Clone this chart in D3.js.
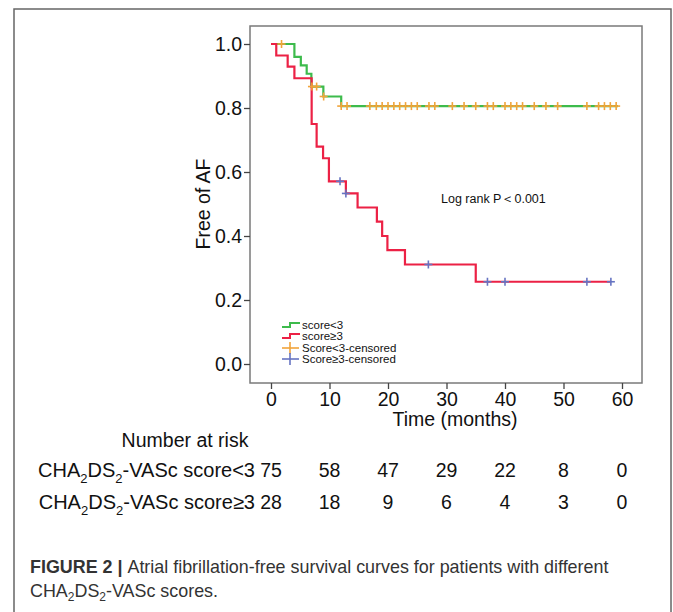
<!DOCTYPE html>
<meta charset="utf-8">
<style>
    body { margin: 0; background: #fff; }
    text { font-family: "Liberation Sans", Arial, sans-serif; fill: #111; }
    .caption text, text.caption { font-family: "Liberation Sans Narrow", "Liberation Sans", Arial, sans-serif; fill: #333; }
</style>
<svg id="f" width="673" height="612"></svg>
<script src="https://cdn.jsdelivr.net/npm/d3@7"></script>
<script>
    // step curves (time in months, survival)
    var lowTimes = [0, 4.0, 5.1, 6.1, 6.9, 8.95, 12.0];
    var lowSurv = [1, 0.96, 0.933, 0.907, 0.867, 0.836, 0.806];
    var lowEnd = 59.3;
    var highTimes = [0, 0.9, 2.85, 4.0, 6.95, 7.8, 8.9, 9.9, 12.8, 14.8, 18.1, 19.0, 19.9, 22.9, 35.0];
    var highSurv = [1, 0.964, 0.929, 0.893, 0.75, 0.679, 0.643, 0.571, 0.533, 0.489, 0.445, 0.4, 0.356, 0.311, 0.257];
    var highEnd = 58.1;

    // censored marks
    var lowCensored = [1.8, 7.0, 7.8, 9.0, 12.0, 13.0, 16.9, 18, 19, 20, 21, 22, 23, 24, 25, 27, 28, 31, 33, 35, 37, 38,
        40, 41, 42, 43, 45, 47, 49, 54, 56, 57, 58, 59];
    var highCensored = [11.8, 12.8, 26.9, 37.0, 40.0, 54.0, 58.1];

    var xTicks = [0, 10, 20, 30, 40, 50, 60];
    var yTicks = [0, 0.2, 0.4, 0.6, 0.8, 1.0];

    var riskLow = [75, 58, 47, 29, 22, 8, 0];
    var riskHigh = [28, 18, 9, 6, 4, 3, 0];

    var legendLabels = ["score<3", "score\u22653", "Score<3-censored", "Score\u22653-censored"];

    var green = "#3dbb4c", red = "#ec2145", orange = "#f2a43a", blue = "#6674c2";

    var svg = d3.select("#f");

    // outer figure box
    svg.append("rect")
        .attr("x", 14).attr("y", 9).attr("width", 657).attr("height", 620)
        .attr("fill", "none").attr("stroke", "#666").attr("stroke-width", 1.5);

    var x = d3.scaleLinear().domain([0, 60]).range([271, 622]),
        y = d3.scaleLinear().domain([0, 1]).range([364, 44]);

    // plot frame
    svg.append("rect")
        .attr("x", 250).attr("y", 26).attr("width", 392).attr("height", 357)
        .attr("fill", "none").attr("stroke", "#7a7a7a").attr("stroke-width", 1.5);

    // y axis
    var yAxis = svg.append("g").attr("transform", "translate(250,0)")
        .call(d3.axisLeft(y).tickValues(yTicks).tickFormat(d3.format(".1f")).tickSize(6).tickPadding(2));
    yAxis.select(".domain").remove();
    yAxis.selectAll("line").attr("stroke", "#444").attr("stroke-width", 1.3);
    yAxis.selectAll("text").attr("font-size", 19.5).attr("font-family", "Liberation Sans, Arial, sans-serif").attr("fill", "#111");

    // x axis
    var xAxis = svg.append("g").attr("transform", "translate(0,383)")
        .call(d3.axisBottom(x).tickValues(xTicks).tickSize(6).tickPadding(3));
    xAxis.select(".domain").remove();
    xAxis.selectAll("line").attr("stroke", "#444").attr("stroke-width", 1.3);
    xAxis.selectAll("text").attr("font-size", 19.5).attr("font-family", "Liberation Sans, Arial, sans-serif").attr("fill", "#111");

    svg.append("text").attr("x", 455).attr("y", 425.5).attr("text-anchor", "middle")
        .attr("font-size", 19.5).text("Time (months)");

    svg.append("text").attr("transform", "translate(210,204) rotate(-90)").attr("text-anchor", "middle")
        .attr("font-size", 19.5).text("Free of AF");

    svg.append("text").attr("x", 441).attr("y", 203).attr("font-size", 12.5).text("Log rank P\uFF1C0.001");

    // curves
    var line = d3.line().curve(d3.curveStepAfter)
        .x(function (d) { return x(d[0]); })
        .y(function (d) { return y(d[1]); });

    function pts(times, surv, end) {
        var p = times.map(function (t, i) { return [t, surv[i]]; });
        p.push([end, surv[surv.length - 1]]);
        return p;
    }
    function survAt(times, surv, t) {
        var i = d3.bisectRight(times, t) - 1;
        return surv[Math.max(0, i)];
    }

    svg.append("path").attr("d", line(pts(lowTimes, lowSurv, lowEnd)))
        .attr("fill", "none").attr("stroke", green).attr("stroke-width", 2.2);
    svg.append("path").attr("d", line(pts(highTimes, highSurv, highEnd)))
        .attr("fill", "none").attr("stroke", red).attr("stroke-width", 2.2);

    function crosses(times, tt, ss, color) {
        var g = svg.append("g").attr("stroke", color).attr("stroke-width", 1.6);
        times.forEach(function (t) {
            var cx = x(t), cy = y(survAt(tt, ss, t));
            g.append("line").attr("x1", cx - 4).attr("x2", cx + 4).attr("y1", cy).attr("y2", cy);
            g.append("line").attr("x1", cx).attr("x2", cx).attr("y1", cy - 4).attr("y2", cy + 4);
        });
    }
    crosses(lowCensored, lowTimes, lowSurv, orange);
    crosses(highCensored, highTimes, highSurv, blue);

    // legend
    var legendY = [325, 336, 348, 359];
    var legend = svg.append("g");
    [green, red].forEach(function (c, i) {
        var ly = legendY[i];
        legend.append("path")
            .attr("d", "M282," + (ly + 2) + "H290V" + (ly - 2) + "H300")
            .attr("fill", "none").attr("stroke", c).attr("stroke-width", 2);
    });
    [orange, blue].forEach(function (c, i) {
        var ly = legendY[i + 2];
        legend.append("line").attr("x1", 282).attr("x2", 299).attr("y1", ly).attr("y2", ly)
            .attr("stroke", c).attr("stroke-width", 1.6);
        legend.append("line").attr("x1", 290).attr("x2", 290).attr("y1", ly - 6).attr("y2", ly + 6)
            .attr("stroke", c).attr("stroke-width", 1.6);
    });
    legend.selectAll("text.lg").data(legendLabels).enter().append("text")
        .attr("class", "lg")
        .attr("x", 302).attr("y", function (d, i) { return legendY[i] + 4; })
        .attr("font-size", 11.5).text(function (d) { return d; });

    // number at risk table
    svg.append("text").attr("x", 185).attr("y", 447).attr("text-anchor", "middle")
        .attr("font-size", 19.5).text("Number at risk");

    function rowLabel(yy, suffix) {
        var t = svg.append("text").attr("x", 255).attr("y", yy).attr("text-anchor", "end").attr("font-size", 20);
        t.append("tspan").text("CHA");
        t.append("tspan").attr("font-size", 13).attr("dy", 6).text("2");
        t.append("tspan").attr("dy", -6).text("DS");
        t.append("tspan").attr("font-size", 13).attr("dy", 6).text("2");
        t.append("tspan").attr("dy", -6).text("-VASc " + suffix);
    }
    rowLabel(477, "score<3");
    rowLabel(509, "score\u22653");

    [[riskLow, 477], [riskHigh, 509]].forEach(function (r) {
        svg.selectAll(null).data(r[0]).enter().append("text")
            .attr("x", function (d, i) { return x(xTicks[i]); })
            .attr("y", r[1]).attr("text-anchor", "middle").attr("font-size", 19.5)
            .text(function (d) { return d; });
    });

    // caption
    var cap = svg.append("g").attr("class", "caption");
    var l1 = cap.append("text").attr("x", 30).attr("y", 573).attr("font-size", 17.9);
    l1.append("tspan").attr("font-weight", "bold").text("FIGURE 2 | ");
    l1.append("tspan").text("Atrial fibrillation-free survival curves for patients with different");
    var l2 = cap.append("text").attr("x", 30).attr("y", 597).attr("font-size", 17.9);
    l2.append("tspan").text("CHA");
    l2.append("tspan").attr("font-size", 12).attr("dy", 4).text("2");
    l2.append("tspan").attr("dy", -4).text("DS");
    l2.append("tspan").attr("font-size", 12).attr("dy", 4).text("2");
    l2.append("tspan").attr("dy", -4).text("-VASc scores.");
</script>
